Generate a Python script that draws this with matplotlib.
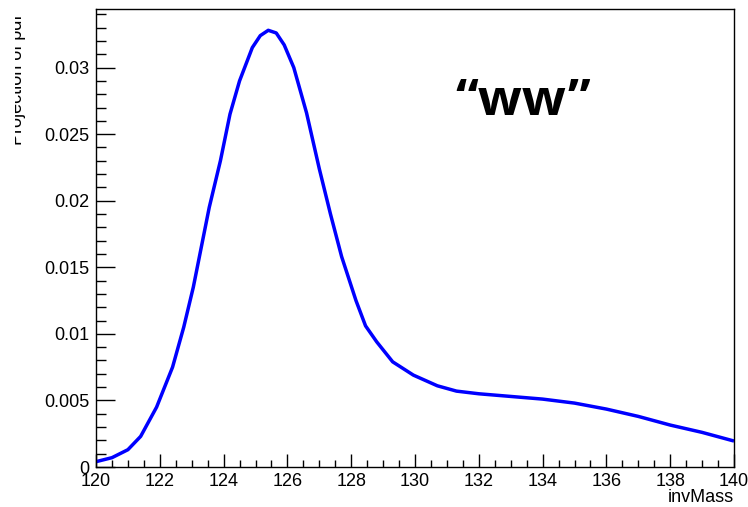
import numpy as np
import matplotlib
matplotlib.use('Agg')
import matplotlib.pyplot as plt
from matplotlib.ticker import MultipleLocator
from matplotlib.transforms import Bbox

# curve
inv_mass = [120, 120.5, 121, 121.4, 121.9, 122.4, 122.75, 123.05, 123.3, 123.55,
            123.9, 124.2, 124.5, 124.9, 125.15, 125.4, 125.65, 125.9, 126.2, 126.6,
            127.0, 127.35, 127.7, 128.15, 128.45, 128.8, 129.3, 129.95, 130.7, 131.3,
            132, 133, 134, 135, 136, 137, 138, 139, 140]
pdf_proj = [0.0004, 0.0007, 0.0013, 0.0023, 0.0045, 0.0075, 0.0105, 0.0135, 0.0165, 0.0195,
            0.0230, 0.0265, 0.0290, 0.0315, 0.0324, 0.0328, 0.0326, 0.0317, 0.0300, 0.0266,
            0.0224, 0.0190, 0.0158, 0.0125, 0.0106, 0.0094, 0.0079, 0.0069, 0.0061, 0.0057,
            0.0055, 0.0053, 0.0051, 0.0048, 0.00435, 0.0038, 0.00315, 0.0026, 0.00195]

x_ticks = [120, 122, 124, 126, 128, 130, 132, 134, 136, 138, 140]
y_ticks = [0, 0.005, 0.01, 0.015, 0.02, 0.025, 0.03]
y_tick_labels = ['0', '0.005', '0.01', '0.015', '0.02', '0.025', '0.03']

W, H = 748, 507
plt.rcParams['font.family'] = ['Liberation Sans', 'DejaVu Sans']
fig = plt.figure(figsize=(W / 100, H / 100), dpi=100)
ax = fig.add_axes([96 / W, (H - 467) / H, (734 - 96) / W, (467 - 9) / H])

ax.plot(inv_mass, pdf_proj, color='#0000ff', linewidth=2.5,
        solid_joinstyle='round', solid_capstyle='butt')

ax.set_xlim(120, 140)
ax.set_ylim(0, 0.0344)
ax.set_xticks(x_ticks)
ax.set_xticklabels([str(t) for t in x_ticks])
ax.set_yticks(y_ticks)
ax.set_yticklabels(y_tick_labels)
ax.xaxis.set_minor_locator(MultipleLocator(0.5))
ax.yaxis.set_minor_locator(MultipleLocator(0.001))

ax.tick_params(which='both', direction='in', top=False, right=False, labelsize=13, width=1, color='black')
ax.tick_params(axis='x', which='major', length=9.4, pad=4)
ax.tick_params(axis='x', which='minor', length=5)
ax.tick_params(axis='y', which='major', length=13.7, pad=5)
ax.tick_params(axis='y', which='minor', length=7.2)
for s in ax.spines.values():
    s.set_linewidth(1)

# x-axis title at the right end
fig.text(734 / W, 1 - 497 / H, 'invMass', ha='right', va='center', fontsize=13)

# y-axis title, partly cut off on the left
ylab = fig.text(22.5 / W, 1 - 15 / H, 'Projection of pdf', rotation=90, rotation_mode='anchor',
                ha='right', va='baseline', fontsize=13)
ylab.set_clip_box(Bbox.from_extents(15, 0, W, H))
ylab.set_clip_on(True)

# annotation
fig.text(455 / W, 1 - 115 / H, '\u201cww\u201d', fontsize=37,
         fontweight='bold', family=['Open Sans', 'DejaVu Sans'], ha='left', va='baseline')

fig.savefig('out.png', dpi=100)
